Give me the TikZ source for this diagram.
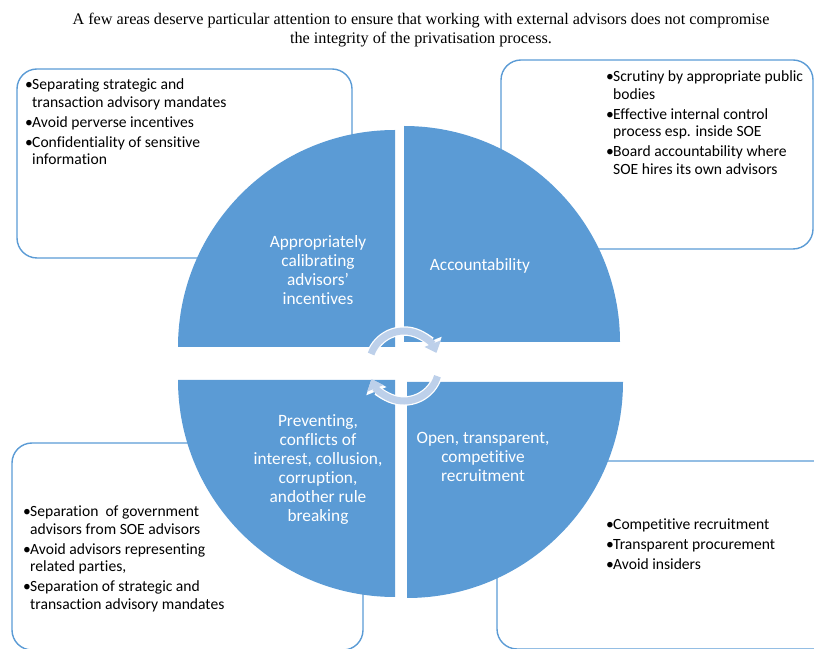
\documentclass[tikz,border=0pt]{standalone}
\usepackage{fontspec}
\setmainfont[Ligatures={TeX,NoCommon}]{Carlito}
\newfontfamily\titlefont{Liberation Serif}
\usetikzlibrary{arrows.meta}
\definecolor{quadblue}{RGB}{91,155,213}
\definecolor{cyclecol}{RGB}{189,208,234}
\begin{document}
\begin{tikzpicture}[x=1pt,y=1pt,
  infobox/.style={draw=quadblue, line width=1.4pt, rounded corners=20pt},
  quad/.style={fill=quadblue},
  quadtext/.style={text=white, align=center, inner sep=0pt,
    font=\fontsize{17.3}{19}\selectfont},
  listtext/.style={inner sep=0pt, anchor=base west,
    font=\fontsize{15.6}{17.5}\selectfont},
  cycleback/.style={line width=9.5pt, draw=white,
    -{Triangle[width=21pt,length=13pt]}},
  cyclefront/.style={line width=7pt, draw=cyclecol,
    -{Triangle[width=17pt,length=10pt]}},
]
\clip (0,0) rectangle (814,648);

% title
\node[font=\titlefont\fontsize{16.2}{19.5}\selectfont, align=center, inner sep=0pt]
  (title) at (421,618) {A few areas deserve particular attention to ensure that working with external advisors does not compromise\\
  the integrity of the privatisation process.};

% outlined boxes behind the circle
\draw[infobox] (17,390) rectangle (352,579);
\draw[infobox] (501,399) rectangle (813,588);
\draw[infobox] (12,-2) rectangle (363,205);
\draw[infobox] (497,-1) rectangle (840,187);

% four quadrants
\fill[quad] (395,301) -- (395,518) arc[start angle=90,end angle=180,radius=217] -- cycle;
\fill[quad] (404,306) -- (620,306) arc[start angle=0,end angle=90,radius=216] -- cycle;
\fill[quad] (395,268) -- (178,268) arc[start angle=180,end angle=270,radius=217] -- cycle;
\fill[quad] (407,266) -- (407,50) arc[start angle=270,end angle=360,radius=216] -- cycle;

% cycle arrows in the middle
\draw[cycleback] (404,282) ++(160:35) arc[start angle=160,end angle=22,radius=35];
\draw[cycleback] (404,282) ++(-17:35) arc[start angle=-17,end angle=-158,radius=35];
\draw[cyclefront] (404,282) ++(160:35) arc[start angle=160,end angle=22,radius=35];
\draw[cyclefront] (404,282) ++(-17:35) arc[start angle=-17,end angle=-158,radius=35];

% quadrant labels
\node[quadtext] (incent) at (318,378) {Appropriately\\calibrating\\advisors\symbol{39}\\incentives};
\node[quadtext] (account) at (480,382) {Accountability};
\node[quadtext] (prevent) at (318,178) {Preventing,\\conflicts of\\interest, collusion,\\corruption,\\andother rule\\breaking};
\node[quadtext] (recruit) at (483,191) {Open, transparent,\\competitive\\recruitment};

% bullet lists
\node[listtext] (listtl) at (25,558) {\begin{tabular}[t]{@{}l@{}l@{}}
\makebox[7pt][l]{•}&Separating strategic and\\
&transaction advisory mandates\\[2.5pt]
\makebox[7pt][l]{•}&Avoid perverse incentives\\[2.5pt]
\makebox[7pt][l]{•}&Confidentiality of sensitive\\
&information
\end{tabular}};
\node[listtext] (listtr) at (606,566) {\begin{tabular}[t]{@{}l@{}l@{}}
\makebox[7pt][l]{•}&Scrutiny by appropriate public\\
&bodies\\[2.5pt]
\makebox[7pt][l]{•}&Effective internal control\\
&process esp. inside SOE\\[2.5pt]
\makebox[7pt][l]{•}&Board accountability where\\
&SOE hires its own advisors
\end{tabular}};
\node[listtext] (listbl) at (23,131) {\begin{tabular}[t]{@{}l@{}l@{}}
\makebox[7pt][l]{•}&Separation\ \ of government\\
&advisors from SOE advisors\\[2.5pt]
\makebox[7pt][l]{•}&Avoid advisors representing\\
&related parties,\\[2.5pt]
\makebox[7pt][l]{•}&Separation of strategic and\\
&transaction advisory mandates
\end{tabular}};
\node[listtext] (listbr) at (606,118) {\begin{tabular}[t]{@{}l@{}l@{}}
\makebox[7pt][l]{•}&Competitive recruitment\\[2.5pt]
\makebox[7pt][l]{•}&Transparent procurement\\[2.5pt]
\makebox[7pt][l]{•}&Avoid insiders
\end{tabular}};
\end{tikzpicture}
\end{document}
